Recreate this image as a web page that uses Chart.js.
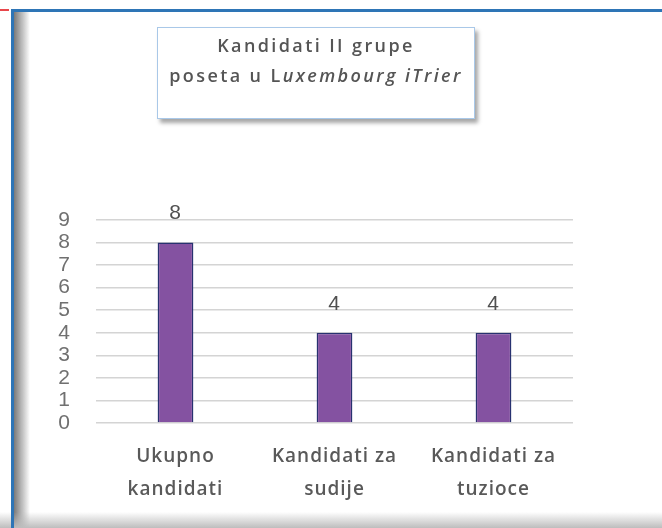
<!DOCTYPE html>
<html>
<head>
<meta charset="utf-8">
<script src="https://cdn.jsdelivr.net/npm/chart.js@4"></script>
<style>
  html, body { margin: 0; padding: 0; background: #fff; }
  #page { position: relative; width: 662px; height: 528px; overflow: hidden; background: #fff; }
  #redline { position: absolute; left: 0; top: 9px; width: 9px; height: 2px; background: #e8474c; }
  #topline { position: absolute; left: 11px; top: 9px; right: 0; height: 3px; background: #2e75b6; }
  #leftline { position: absolute; left: 11px; top: 9px; width: 3px; bottom: 0; background: #2e75b6; }
  #leftshade { position: absolute; left: 14px; top: 12px; width: 16px; bottom: 0;
    background: linear-gradient(to right, #7a7a7a, rgba(255,255,255,0)); }
  #bottomshade { position: absolute; left: 0; right: 0; bottom: 0; height: 16px;
    background: linear-gradient(to bottom, rgba(255,255,255,0), #bdbdbd); }
  #chart { position: absolute; left: 0; top: 0; }
  #titlebox { position: absolute; left: 157px; top: 27px; width: 318px; height: 92px;
    border: 1px solid #a9c8e8; background: #fff;
    box-shadow: 3px 4px 4px rgba(0,0,0,0.35);
    font-family: "Open Sans", sans-serif; font-weight: 600; font-size: 18px;
    color: #555; text-align: center; letter-spacing: 2.4px; line-height: 30px; padding-top: 2px; box-sizing: border-box; }
  #titlebox i { font-style: italic; }
</style>
</head>
<body>
<div id="page">
  <canvas id="chart" width="662" height="528"></canvas>
  <div id="redline"></div>
  <div id="leftshade"></div>
  <div id="bottomshade"></div>
  <div id="topline"></div>
  <div id="leftline"></div>
  <div id="titlebox">Kandidati II grupe<br>poseta u L<i>uxembourg iTrier</i></div>
</div>
<script>
const categories = [
  ["Ukupno", "kandidati"],
  ["Kandidati za", "sudije"],
  ["Kandidati za", "tuzioce"],
];
const values = [8, 4, 4];
const yTicks = [0, 1, 2, 3, 4, 5, 6, 7, 8, 9];

// value labels above the bars
const valueLabels = {
  id: "valueLabels",
  afterDatasetsDraw(chart) {
    const ctx = chart.ctx;
    const meta = chart.getDatasetMeta(0);
    ctx.save();
    ctx.font = "21px 'Liberation Sans', sans-serif";
    ctx.fillStyle = "#505050";
    ctx.textAlign = "center";
    ctx.textBaseline = "middle";
    meta.data.forEach((bar, i) => {
      ctx.fillText(String(values[i]), bar.x, bar.y - 29);
    });
    ctx.restore();
  },
};

// a little letter spacing for the category labels
const spacing = {
  id: "spacing",
  beforeDraw(chart) { chart.ctx.letterSpacing = "1px"; },
  afterDraw(chart) { chart.ctx.letterSpacing = "0px"; },
};

new Chart(document.getElementById("chart").getContext("2d"), {
  type: "bar",
  data: {
    labels: categories,
    datasets: [
      {
        data: values,
        backgroundColor: "#8452a1",
        borderColor: "#283270",
        borderWidth: 1.5,
        categoryPercentage: 1,
        barPercentage: 0.225,
      },
    ],
  },
  options: {
    responsive: false,
    animation: false,
    layout: { padding: { left: 0, right: 89, top: 220, bottom: 0 } },
    plugins: {
      legend: { display: false },
      tooltip: { enabled: false },
      title: { display: false },
    },
    scales: {
      x: {
        grid: { display: false, drawTicks: false },
        border: { display: false },
        ticks: {
          padding: 17,
          color: "#595959",
          maxRotation: 0,
          autoSkip: false,
          font: { family: "'Open Sans', sans-serif", size: 19, weight: "600", lineHeight: 1.75 },
        },
        afterFit: (scale) => { scale.height = 105; },
      },
      y: {
        min: 0,
        max: 9,
        afterBuildTicks: (scale) => { scale.ticks = yTicks.map((v) => ({ value: v })); },
        grid: { color: "#d4d4d4", lineWidth: 1.5, drawTicks: false },
        border: { display: false },
        ticks: {
          padding: 25,
          autoSkip: false,
          color: "#707070",
          font: { family: "'Liberation Sans', sans-serif", size: 21, lineHeight: 1 },
        },
        afterFit: (scale) => { scale.width = 96; },
      },
    },
  },
  plugins: [valueLabels, spacing],
});
</script>
</body>
</html>
